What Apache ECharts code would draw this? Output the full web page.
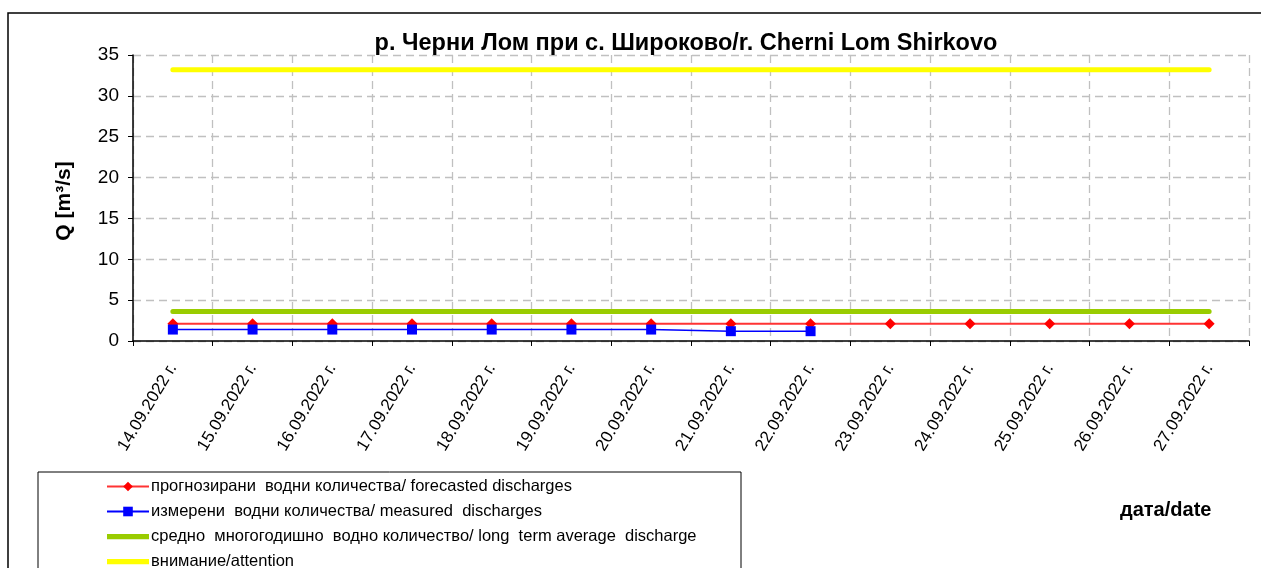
<!DOCTYPE html>
<html>
<head>
<meta charset="utf-8">
<title>Cherni Lom Shirkovo</title>
<script src="https://cdn.jsdelivr.net/npm/echarts@6/dist/echarts.min.js"></script>
<style>
  html, body { margin: 0; padding: 0; background: #fff; }
  #chart { width: 1261px; height: 568px; }
</style>
</head>
<body>
<div id="chart"></div>
<script>
// дати / dates
var dates = ['14.09.2022 г.', '15.09.2022 г.', '16.09.2022 г.', '17.09.2022 г.', '18.09.2022 г.',
  '19.09.2022 г.', '20.09.2022 г.', '21.09.2022 г.', '22.09.2022 г.', '23.09.2022 г.',
  '24.09.2022 г.', '25.09.2022 г.', '26.09.2022 г.', '27.09.2022 г.'];

// прогнозирани / forecasted
var forecasted = [2.1, 2.1, 2.1, 2.1, 2.1, 2.1, 2.1, 2.1, 2.1, 2.1, 2.1, 2.1, 2.1, 2.1];
// измерени / measured
var measured = [1.4, 1.4, 1.4, 1.4, 1.4, 1.4, 1.4, 1.2, 1.2, null, null, null, null, null];
// средно многогодишно / long term average
var longTermAvg = [3.6, 3.6, 3.6, 3.6, 3.6, 3.6, 3.6, 3.6, 3.6, 3.6, 3.6, 3.6, 3.6, 3.6];
// внимание / attention
var attention = [33.2, 33.2, 33.2, 33.2, 33.2, 33.2, 33.2, 33.2, 33.2, 33.2, 33.2, 33.2, 33.2, 33.2];

var names = [
  'прогнозирани  водни количества/ forecasted discharges',
  'измерени  водни количества/ measured  discharges',
  'средно  многогодишно  водно количество/ long  term average  discharge',
  'внимание/attention'
];

var font = 'Liberation Sans, Arial, sans-serif';
var barIcon = 'path://M0,0 L40,0 L40,5 L0,5 Z';
var chart = echarts.init(document.getElementById('chart'));

chart.setOption({
  animation: false,
  backgroundColor: '#fff',
  textStyle: { fontFamily: font },
  title: {
    text: 'р. Черни Лом при с. Широково/r. Cherni Lom Shirkovo',
    left: 681,
    textAlign: 'center',
    top: 27,
    textStyle: { fontSize: 23.5, fontWeight: 'bold', color: '#000', fontFamily: font }
  },
  graphic: [
    {
      type: 'rect', z: -1,
      shape: { x: 8, y: 13, width: 1300, height: 600 },
      style: { fill: '#fff', stroke: '#000', lineWidth: 1.5 }
    },
    {
      type: 'rect',
      shape: { x: 38, y: 472, width: 703, height: 120 },
      style: { fill: '#fff', stroke: '#000', lineWidth: 1 }
    },
    {
      // название на оста Y
      type: 'text', x: 64, y: 201, rotation: Math.PI / 2,
      style: {
        text: 'Q [m³/s]', fontSize: 21, fontWeight: 'bold', fill: '#000', fontFamily: font,
        align: 'center', verticalAlign: 'middle'
      }
    },
    {
      type: 'text', left: 1120, top: 500,
      style: { text: 'дата/date', fontSize: 20, fontWeight: 'bold', fill: '#000', fontFamily: font }
    }
  ],
  legend: {
    orient: 'vertical',
    left: 106,
    top: 474,
    height: 200,
    padding: 0,
    itemWidth: 42,
    itemHeight: 12,
    itemGap: 0,
    z: 10,
    textStyle: { fontSize: 16.5, lineHeight: 25, color: '#000', fontFamily: font, padding: [0, 0, 0, -3] },
    data: [
      { name: names[0] },
      { name: names[1] },
      { name: names[2], icon: barIcon },
      { name: names[3], icon: barIcon }
    ]
  },
  grid: { left: 133, right: 12, top: 55, bottom: 227 },
  xAxis: {
    type: 'category',
    data: dates,
    boundaryGap: true,
    axisLine: { lineStyle: { color: '#000', width: 1.5 } },
    axisTick: { show: true, length: 5, lineStyle: { color: '#000' } },
    axisLabel: { rotate: 59, fontSize: 17, color: '#000', margin: 24, interval: 0 },
    splitLine: { show: true, lineStyle: { color: '#c0c0c0', type: [8, 5], width: 1.3 } }
  },
  yAxis: {
    type: 'value',
    min: 0,
    max: 35,
    interval: 5,
    axisLine: { show: true, lineStyle: { color: '#000', width: 1.5 } },
    axisTick: { show: true, length: 5, lineStyle: { color: '#000' } },
    axisLabel: { fontSize: 19, color: '#000', margin: 14 },
    splitLine: { show: true, lineStyle: { color: '#c0c0c0', type: [8, 5], width: 1.3 } }
  },
  series: [
    {
      name: names[3], type: 'line', data: attention,
      symbol: 'none', z: 2,
      lineStyle: { color: '#ffff00', width: 5, cap: 'round' },
      itemStyle: { color: '#ffff00' }
    },
    {
      name: names[2], type: 'line', data: longTermAvg,
      symbol: 'none', z: 2,
      lineStyle: { color: '#99cc00', width: 5, cap: 'round' },
      itemStyle: { color: '#99cc00' }
    },
    {
      name: names[0], type: 'line', data: forecasted,
      symbol: 'diamond', symbolSize: 11, z: 3,
      lineStyle: { color: '#ff3333', width: 2 },
      itemStyle: { color: '#ff0000' }
    },
    {
      name: names[1], type: 'line', data: measured,
      symbol: 'rect', symbolSize: 10, z: 4,
      lineStyle: { color: '#0000ff', width: 1.5 },
      itemStyle: { color: '#0000ff' }
    }
  ]
});
</script>
</body>
</html>
